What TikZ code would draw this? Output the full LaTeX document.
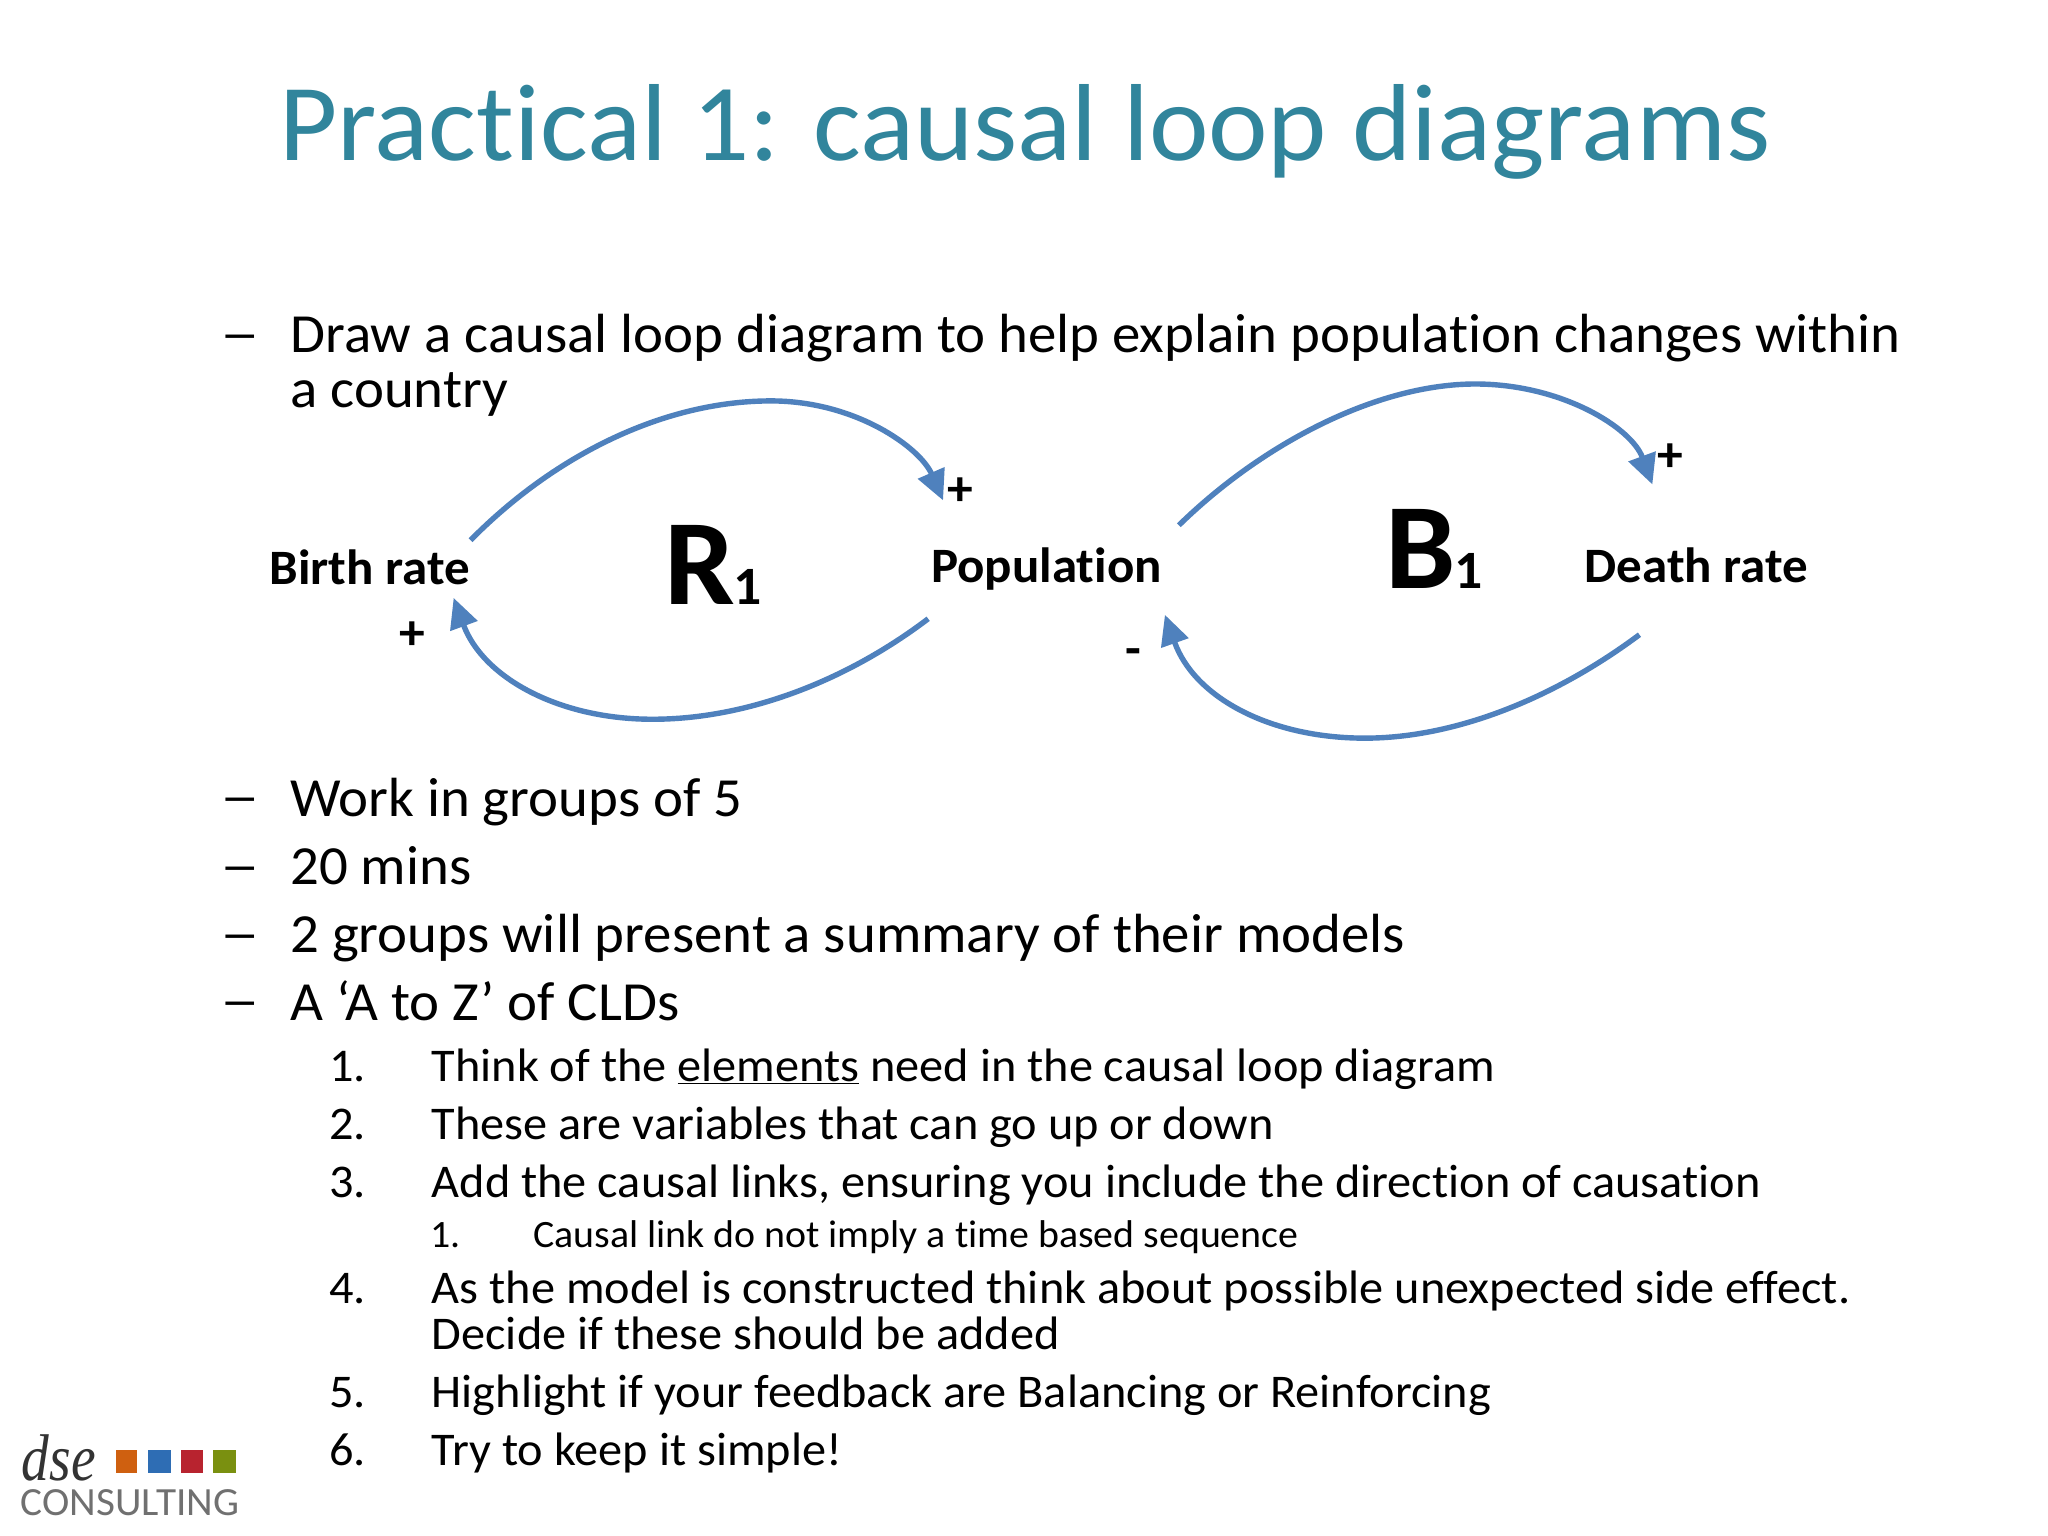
\documentclass[tikz,border=0pt]{standalone}
\usepackage{fontspec}
\setmainfont{Carlito}[Ligatures=NoCommon,FakeStretch=1.03]
\newfontfamily\logoserif{Liberation Serif}[FakeStretch=0.84]
\usetikzlibrary{arrows.meta}
\definecolor{titleteal}{HTML}{31859C}
\definecolor{linkblue}{HTML}{4F81BD}
\definecolor{logogray}{HTML}{707070}
\definecolor{logodark}{HTML}{333333}
\definecolor{sqorange}{HTML}{CF6010}
\definecolor{sqblue}{HTML}{2E6DB4}
\definecolor{sqred}{HTML}{B8232F}
\definecolor{sqolive}{HTML}{7A9010}
\tikzset{
  txt/.style={anchor=base west,inner sep=0pt,outer sep=0pt,text=black},
  titletext/.style={txt,text=titleteal,font=\fontsize{109.5}{109.5}\selectfont},
  lvlone/.style={txt,font=\fontsize{55.2}{55.2}\selectfont},
  dashmark/.style={txt,font=\fontsize{38}{38}\selectfont\bfseries},
  lvltwo/.style={txt,font=\fontsize{46.9}{46.9}\selectfont},
  lvlthree/.style={txt,font=\fontsize{38.7}{38.7}\selectfont},
  varname/.style={txt,font=\fontsize{49.5}{49.5}\selectfont\bfseries},
  polarity/.style={anchor=center,inner sep=0pt,outer sep=0pt,font=\fontsize{50}{50}\selectfont\bfseries},
  looplabel/.style={txt,font=\fontsize{122}{122}\selectfont\bfseries},
  link/.style={draw=linkblue,line width=5.4pt,-{Triangle[length=30pt,width=28pt,fill=linkblue]}},
  logosq/.style={inner sep=0pt,outer sep=0pt,minimum height=23pt,anchor=north west},
}
\begin{document}
\begin{tikzpicture}[x=0.9948pt,y=-0.9948pt]
\useasboundingbox[fill=white] (0,0) rectangle (2058.7,1544);
\node[titletext] (title) at (281,161) {Practical 1: causal loop diagrams};
\node[dashmark] (d1) at (224,349) {—};
\node[lvlone] (t1) at (292,354) {Draw a causal loop diagram to help explain population changes within};
\node[lvlone] (t1b) at (292,410) {a country};
\node[dashmark] (d2) at (224,815) {—};
\node[lvlone] (t2) at (292,821) {Work in groups of 5};
\node[dashmark] (d3) at (224,884) {—};
\node[lvlone] (t3) at (292,889) {20 mins};
\node[dashmark] (d4) at (224,952) {—};
\node[lvlone] (t4) at (292,957) {2 groups will present a summary of their models};
\node[dashmark] (d5) at (224,1020) {—};
\node[lvlone] (t5) at (292,1026) {A ‘A to Z’ of CLDs};
\node[lvltwo] (n1) at (331,1087) {1.};
\node[lvltwo] (s1) at (434,1087) {Think of the \underline{elements} need in the causal loop diagram};
\node[lvltwo] (n2) at (331,1145) {2.};
\node[lvltwo] (s2) at (434,1145) {These are variables that can go up or down};
\node[lvltwo] (n3) at (331,1204) {3.};
\node[lvltwo] (s3) at (434,1204) {Add the causal links, ensuring you include the direction of causation};
\node[lvlthree] (n31) at (433,1254) {1.};
\node[lvlthree] (s31) at (536,1254) {Causal link do not imply a time based sequence};
\node[lvltwo] (n4) at (331,1310) {4.};
\node[lvltwo] (s4) at (434,1310) {As the model is constructed think about possible unexpected side effect.};
\node[lvltwo] (s4b) at (434,1357) {Decide if these should be added};
\node[lvltwo] (n5) at (331,1415) {5.};
\node[lvltwo] (s5) at (434,1415) {Highlight if your feedback are Balancing or Reinforcing};
\node[lvltwo] (n6) at (331,1473) {6.};
\node[lvltwo] (s6) at (434,1473) {Try to keep it simple!};
\node[varname] (birth) at (271,588) {Birth rate};
\node[varname] (pop) at (936,586) {Population};
\node[varname] (death) at (1593,586) {Death rate};
\node[looplabel] (rone) at (668,608) {R\kern-2pt\fontsize{54}{54}\selectfont 1};
\node[looplabel] (bone) at (1393,592) {B\kern-2pt\fontsize{54}{54}\selectfont 1};
\node[polarity] (p1) at (965,494) {+};
\node[polarity] (p2) at (414,639) {+};
\node[polarity] (p3) at (1679,460) {+};
\node[polarity] (p4) at (1139,660) {-};
\coordinate (ra) at (473,543);
\coordinate (rb) at (948,503);
\coordinate (rc) at (933,622);
\coordinate (rd) at (456,601);
\coordinate (ba) at (1185,528);
\coordinate (bb) at (1661,487);
\coordinate (bc) at (1648,638);
\coordinate (bd) at (1171,618);
\draw[link] (ra) .. controls (560,455) and (670,403) .. (775,403) .. controls (860,403) and (925,450) .. (rb);
\draw[link] (rc) .. controls (850,685) and (750,723) .. (656,723) .. controls (560,723) and (485,680) .. (rd);
\draw[link] (ba) .. controls (1270,445) and (1385,386) .. (1483,386) .. controls (1570,386) and (1640,430) .. (bb);
\draw[link] (bc) .. controls (1565,700) and (1465,742) .. (1372,742) .. controls (1275,742) and (1200,700) .. (bd);
% logo
\node[txt,text=logodark,font=\logoserif\itshape\fontsize{66}{66}\selectfont] (dse) at (22,1488) {dse};
\node[logosq,minimum width=21pt,fill=sqorange] (q1) at (116.6,1457.6) {};
\node[logosq,minimum width=23pt,fill=sqblue] (q2) at (149,1457.6) {};
\node[logosq,minimum width=22pt,fill=sqred] (q3) at (182,1457.6) {};
\node[logosq,minimum width=23pt,fill=sqolive] (q4) at (214,1457.6) {};
\node[txt,text=logogray,font=\fontsize{40}{40}\selectfont] (cons) at (21,1523) {CONSULTING};
\end{tikzpicture}
\end{document}
